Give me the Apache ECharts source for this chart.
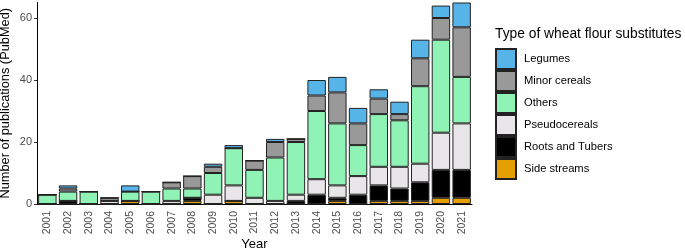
<!DOCTYPE html>
<html>
<head>
<meta charset="utf-8">
<script src="https://cdn.jsdelivr.net/npm/echarts@6/dist/echarts.min.js"></script>
<style>
  html, body { margin: 0; padding: 0; background: #fff; }
  #chart { width: 685px; height: 251px; }
</style>
</head>
<body>
<div id="chart"></div>
<script>
// years on the x axis
const years = ["2001", "2002", "2003", "2004", "2005", "2006", "2007", "2008", "2009", "2010", "2011",
  "2012", "2013", "2014", "2015", "2016", "2017", "2018", "2019", "2020", "2021"];

// publication counts per category
const sideStreams = [0, 0, 0, 0, 1, 0, 0, 1, 0, 1, 0, 0, 0, 0, 1, 0, 1, 1, 1, 2, 2];
const rootsTubers = [0, 1, 0, 0, 0, 0, 0, 1, 0, 0, 0, 0, 1, 3, 1, 3, 5, 4, 6, 9, 9];
const pseudocereals = [0, 0, 0, 1, 0, 0, 1, 0, 3, 5, 2, 1, 2, 5, 4, 6, 6, 7, 6, 12, 15];
const others = [3, 3, 4, 0, 3, 4, 4, 3, 7, 12, 9, 14, 17, 22, 20, 10, 17, 15, 25, 30, 15];
const minorCereals = [0, 1, 0, 1, 0, 0, 2, 4, 2, 0, 3, 5, 1, 5, 10, 7, 5, 2, 9, 7, 16];
const legumes = [0, 1, 0, 0, 2, 0, 0, 0, 1, 1, 0, 1, 0, 5, 5, 5, 3, 4, 6, 4, 8];

const yTicks = [0, 20, 40, 60];

const font = "Liberation Sans";

// bottom of the stack first
const layers = [
  { name: "Side streams", data: sideStreams, color: "#E69F00" },
  { name: "Roots and Tubers", data: rootsTubers, color: "#000000" },
  { name: "Pseudocereals", data: pseudocereals, color: "#E8E6E8" },
  { name: "Others", data: others, color: "#8FF3B6" },
  { name: "Minor cereals", data: minorCereals, color: "#999999" },
  { name: "Legumes", data: legumes, color: "#56B4E9" },
];

const chart = echarts.init(document.getElementById("chart"), null, { renderer: "canvas" });

chart.setOption({
  animation: false,
  textStyle: { fontFamily: font },
  title: {
    text: "Type of wheat flour substitutes",
    left: 495,
    top: 27,
    padding: 0,
    textStyle: { fontFamily: font, fontSize: 13.8, fontWeight: "normal", color: "#000" },
  },
  legend: {
    orient: "vertical",
    left: 495,
    top: 48,
    padding: 0,
    itemWidth: 20,
    itemHeight: 20,
    itemGap: 0,
    icon: "rect",
    data: ["Legumes", "Minor cereals", "Others", "Pseudocereals", "Roots and Tubers", "Side streams"],
    textStyle: { fontFamily: font, fontSize: 11.2, color: "#000", padding: [0, 0, 0, 3] },
  },
  grid: {
    left: 37,
    right: 213,
    top: 2.5,
    bottom: 47,
    outerBoundsMode: "none",
  },
  xAxis: {
    type: "category",
    data: years,
    name: "Year",
    nameLocation: "middle",
    nameGap: 34,
    nameMoveOverlap: false,
    nameTextStyle: { fontFamily: font, fontSize: 13, color: "#000" },
    axisLine: { lineStyle: { color: "#000", width: 1 } },
    axisTick: { alignWithLabel: true, length: 3.5, lineStyle: { color: "#333" } },
    axisLabel: {
      rotate: 90,
      margin: 7,
      fontSize: 10.5,
      color: "#4d4d4d",
      fontFamily: font,
    },
  },
  yAxis: {
    type: "value",
    min: 0,
    max: 65,
    interval: 20,
    name: "Number of publications (PubMed)",
    nameLocation: "middle",
    nameGap: 25,
    nameMoveOverlap: false,
    nameTextStyle: { fontFamily: font, fontSize: 12.8, color: "#000" },
    axisLine: { show: true, lineStyle: { color: "#000", width: 1 } },
    axisTick: { show: true, length: 3, lineStyle: { color: "#333" }, customValues: yTicks },
    axisLabel: { fontSize: 11, color: "#4d4d4d", margin: 5, fontFamily: font, customValues: yTicks },
    splitLine: { show: false },
  },
  series: layers.map((l) => ({
    name: l.name,
    type: "bar",
    stack: "total",
    barCategoryGap: "11%",
    data: l.data,
    itemStyle: { color: l.color, borderColor: "#222", borderWidth: 1 },
  })),
});
</script>
</body>
</html>
